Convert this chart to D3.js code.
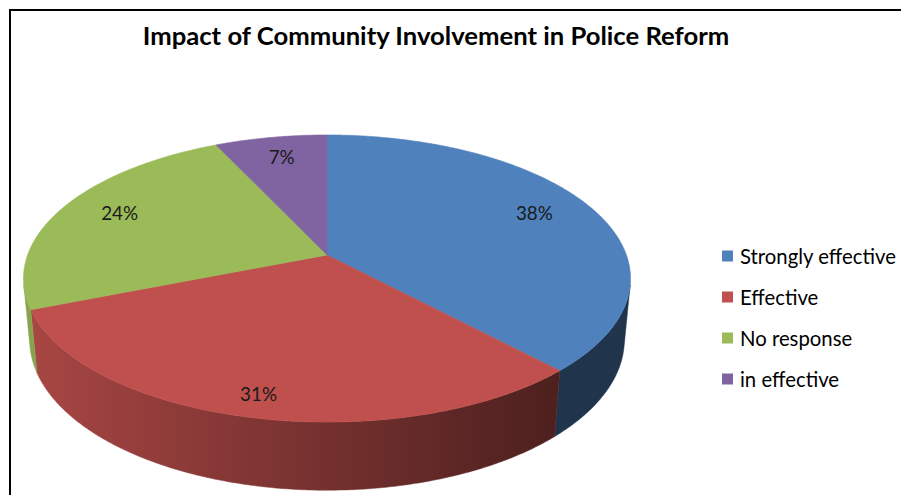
<!DOCTYPE html>
<html>
<head>
<meta charset="utf-8">
<script src="https://cdn.jsdelivr.net/npm/d3@7"></script>
<style>
  html, body { margin: 0; padding: 0; background: #fff; }
  svg { display: block; }
  text { font-family: Lato, "Open Sans", sans-serif; }
</style>
</head>
<body>
<svg id="chart" width="901" height="495"></svg>
<script>
// Survey results
const chartTitle = "Impact of Community Involvement in Police Reform";
const categories = ["Strongly effective", "Effective", "No response", "in effective"];
const values = [38, 31, 24, 7];
const valueLabels = ["38%", "31%", "24%", "7%"];
const sliceColors = ["#4f81bd", "#c0504d", "#9bbb59", "#8064a2"];

const W = 901, H = 495;
const svg = d3.select("#chart");
const defs = svg.append("defs");

// Chart frame
svg.append("rect")
  .attr("x", 10).attr("y", 10)
  .attr("width", W + 20).attr("height", H + 20)
  .attr("fill", "#fff").attr("stroke", "#000").attr("stroke-width", 2);

// Perspective view of a tilted disc (unit radius, thickness h)
const view = {
  cx: 327, cy: 255, k: 299.4,
  tilt: Math.asin(0.4666), dist: 5.394, h: 0.233
};
const sinA = Math.sin(view.tilt), cosA = Math.cos(view.tilt);

// theta measured clockwise from the far (12 o'clock) point, seen from above
function project(theta, r, y) {
  const x = r * Math.sin(theta);
  const z = -r * Math.cos(theta);
  const d = z * cosA + y * sinA;
  const s = view.dist / (view.dist - d);
  return [view.cx + view.k * x * s, view.cy + view.k * (z * sinA - y * cosA) * s];
}

const pie = d3.pie().sort(null).value(d => d).startAngle(0).endAngle(2 * Math.PI);
const arcs = pie(values);

const color = d3.scaleOrdinal().domain(categories).range(sliceColors);
const line = d3.line();

const gSide = svg.append("g");
const gTop = svg.append("g");
const gLabel = svg.append("g");

// Wall lighting: brighter on the left, darker towards the right
const gradX0 = view.cx - view.k * 1.05, gradX1 = view.cx + view.k * 1.05;
function wallFactor(px) {
  const u = (px - view.cx) / view.k;
  return Math.max(0.4, Math.min(0.9, 0.605 - 0.27 * u));
}
function shadeAt(base, px) {
  const c = d3.rgb(base), f = wallFactor(px);
  return d3.rgb(c.r * f, c.g * f, c.b * f).formatHex();
}

function signedArea(pts) {
  let a = 0;
  for (let i = 0; i < pts.length; i++) {
    const p = pts[i], q = pts[(i + 1) % pts.length];
    a += p[0] * q[1] - q[0] * p[1];
  }
  return a / 2;
}

const step = Math.PI / 360;

arcs.forEach((a, i) => {
  const base = color(categories[i]);

  // Gradient for this slice's outer wall
  const gid = "wall" + i;
  const grad = defs.append("linearGradient")
    .attr("id", gid).attr("gradientUnits", "userSpaceOnUse")
    .attr("x1", gradX0).attr("y1", 0).attr("x2", gradX1).attr("y2", 0);
  d3.range(0, 1.0001, 0.05).forEach(o => {
    grad.append("stop").attr("offset", o)
      .attr("stop-color", shadeAt(base, gradX0 + (gradX1 - gradX0) * o));
  });

  // Outer wall: only the part of the rim that faces the viewer
  const n = Math.max(2, Math.ceil((a.endAngle - a.startAngle) / step));
  const ts = d3.range(n + 1).map(j => a.startAngle + (a.endAngle - a.startAngle) * j / n);
  let run = [];
  const runs = [];
  for (let j = 0; j < n; j++) {
    const t0 = ts[j], t1 = ts[j + 1];
    const quad = [project(t0, 1, 0), project(t1, 1, 0), project(t1, 1, -view.h), project(t0, 1, -view.h)];
    if (signedArea(quad) < 0) {
      if (!run.length) run.push(t0);
      run.push(t1);
    } else if (run.length) { runs.push(run); run = []; }
  }
  if (run.length) runs.push(run);
  runs.forEach(r => {
    const poly = r.map(t => project(t, 1, 0))
      .concat(r.slice().reverse().map(t => project(t, 1, -view.h)));
    gSide.append("path")
      .attr("d", line(poly) + "Z")
      .attr("fill", `url(#${gid})`)
      .attr("stroke", `url(#${gid})`).attr("stroke-width", 0.5);
  });

  // Top face
  const pts = [project(0, 0, 0)].concat(ts.map(t => project(t, 1, 0)));
  gTop.append("path")
    .attr("d", line(pts) + "Z")
    .attr("fill", base).attr("stroke", base).attr("stroke-width", 0.6);

  // Value label; nearer slices sit a little further out
  const mid = (a.startAngle + a.endAngle) / 2;
  const z = -Math.cos(mid);
  const r = 0.78 + 0.12 * Math.max(0, z);
  const p = project(mid, r, 0);
  gLabel.append("text")
    .attr("class", "vlabel")
    .attr("x", p[0]).attr("y", p[1] - 4)
    .attr("text-anchor", "middle")
    .attr("dominant-baseline", "central")
    .attr("fill", "#1a1a1a")
    .text(valueLabels[i]);
});

// Fit a text selection's font size to a target width
function fitFont(sel, target, base) {
  sel.style("font-size", base + "px");
  const w = sel.node().getComputedTextLength();
  return base * target / w;
}

// Title
const title = svg.append("text")
  .attr("x", 436).attr("y", 45)
  .attr("text-anchor", "middle")
  .attr("font-weight", "bold")
  .attr("fill", "#000")
  .text(chartTitle);
title.style("font-size", fitFont(title, 587, 22) + "px");

// Value label sizing
const labelSel = gLabel.selectAll("text.vlabel");
const lblSize = fitFont(d3.select(labelSel.nodes()[0]), 37, 16);
labelSel.style("font-size", lblSize + "px");

// Legend
const legend = svg.append("g");
const rowY = d3.scalePoint().domain(categories).range([256, 379]);
const items = legend.selectAll("g").data(categories).join("g")
  .attr("transform", d => `translate(0,${rowY(d)})`);
items.append("rect")
  .attr("x", 722).attr("y", -5.5)
  .attr("width", 11).attr("height", 11)
  .attr("fill", d => color(d));
const legText = items.append("text")
  .attr("x", 740).attr("y", 0)
  .attr("dominant-baseline", "central")
  .attr("fill", "#000")
  .text(d => d);
const legSize = fitFont(d3.select(legText.nodes()[0]), 156, 17);
legText.style("font-size", legSize + "px");
</script>
</body>
</html>
